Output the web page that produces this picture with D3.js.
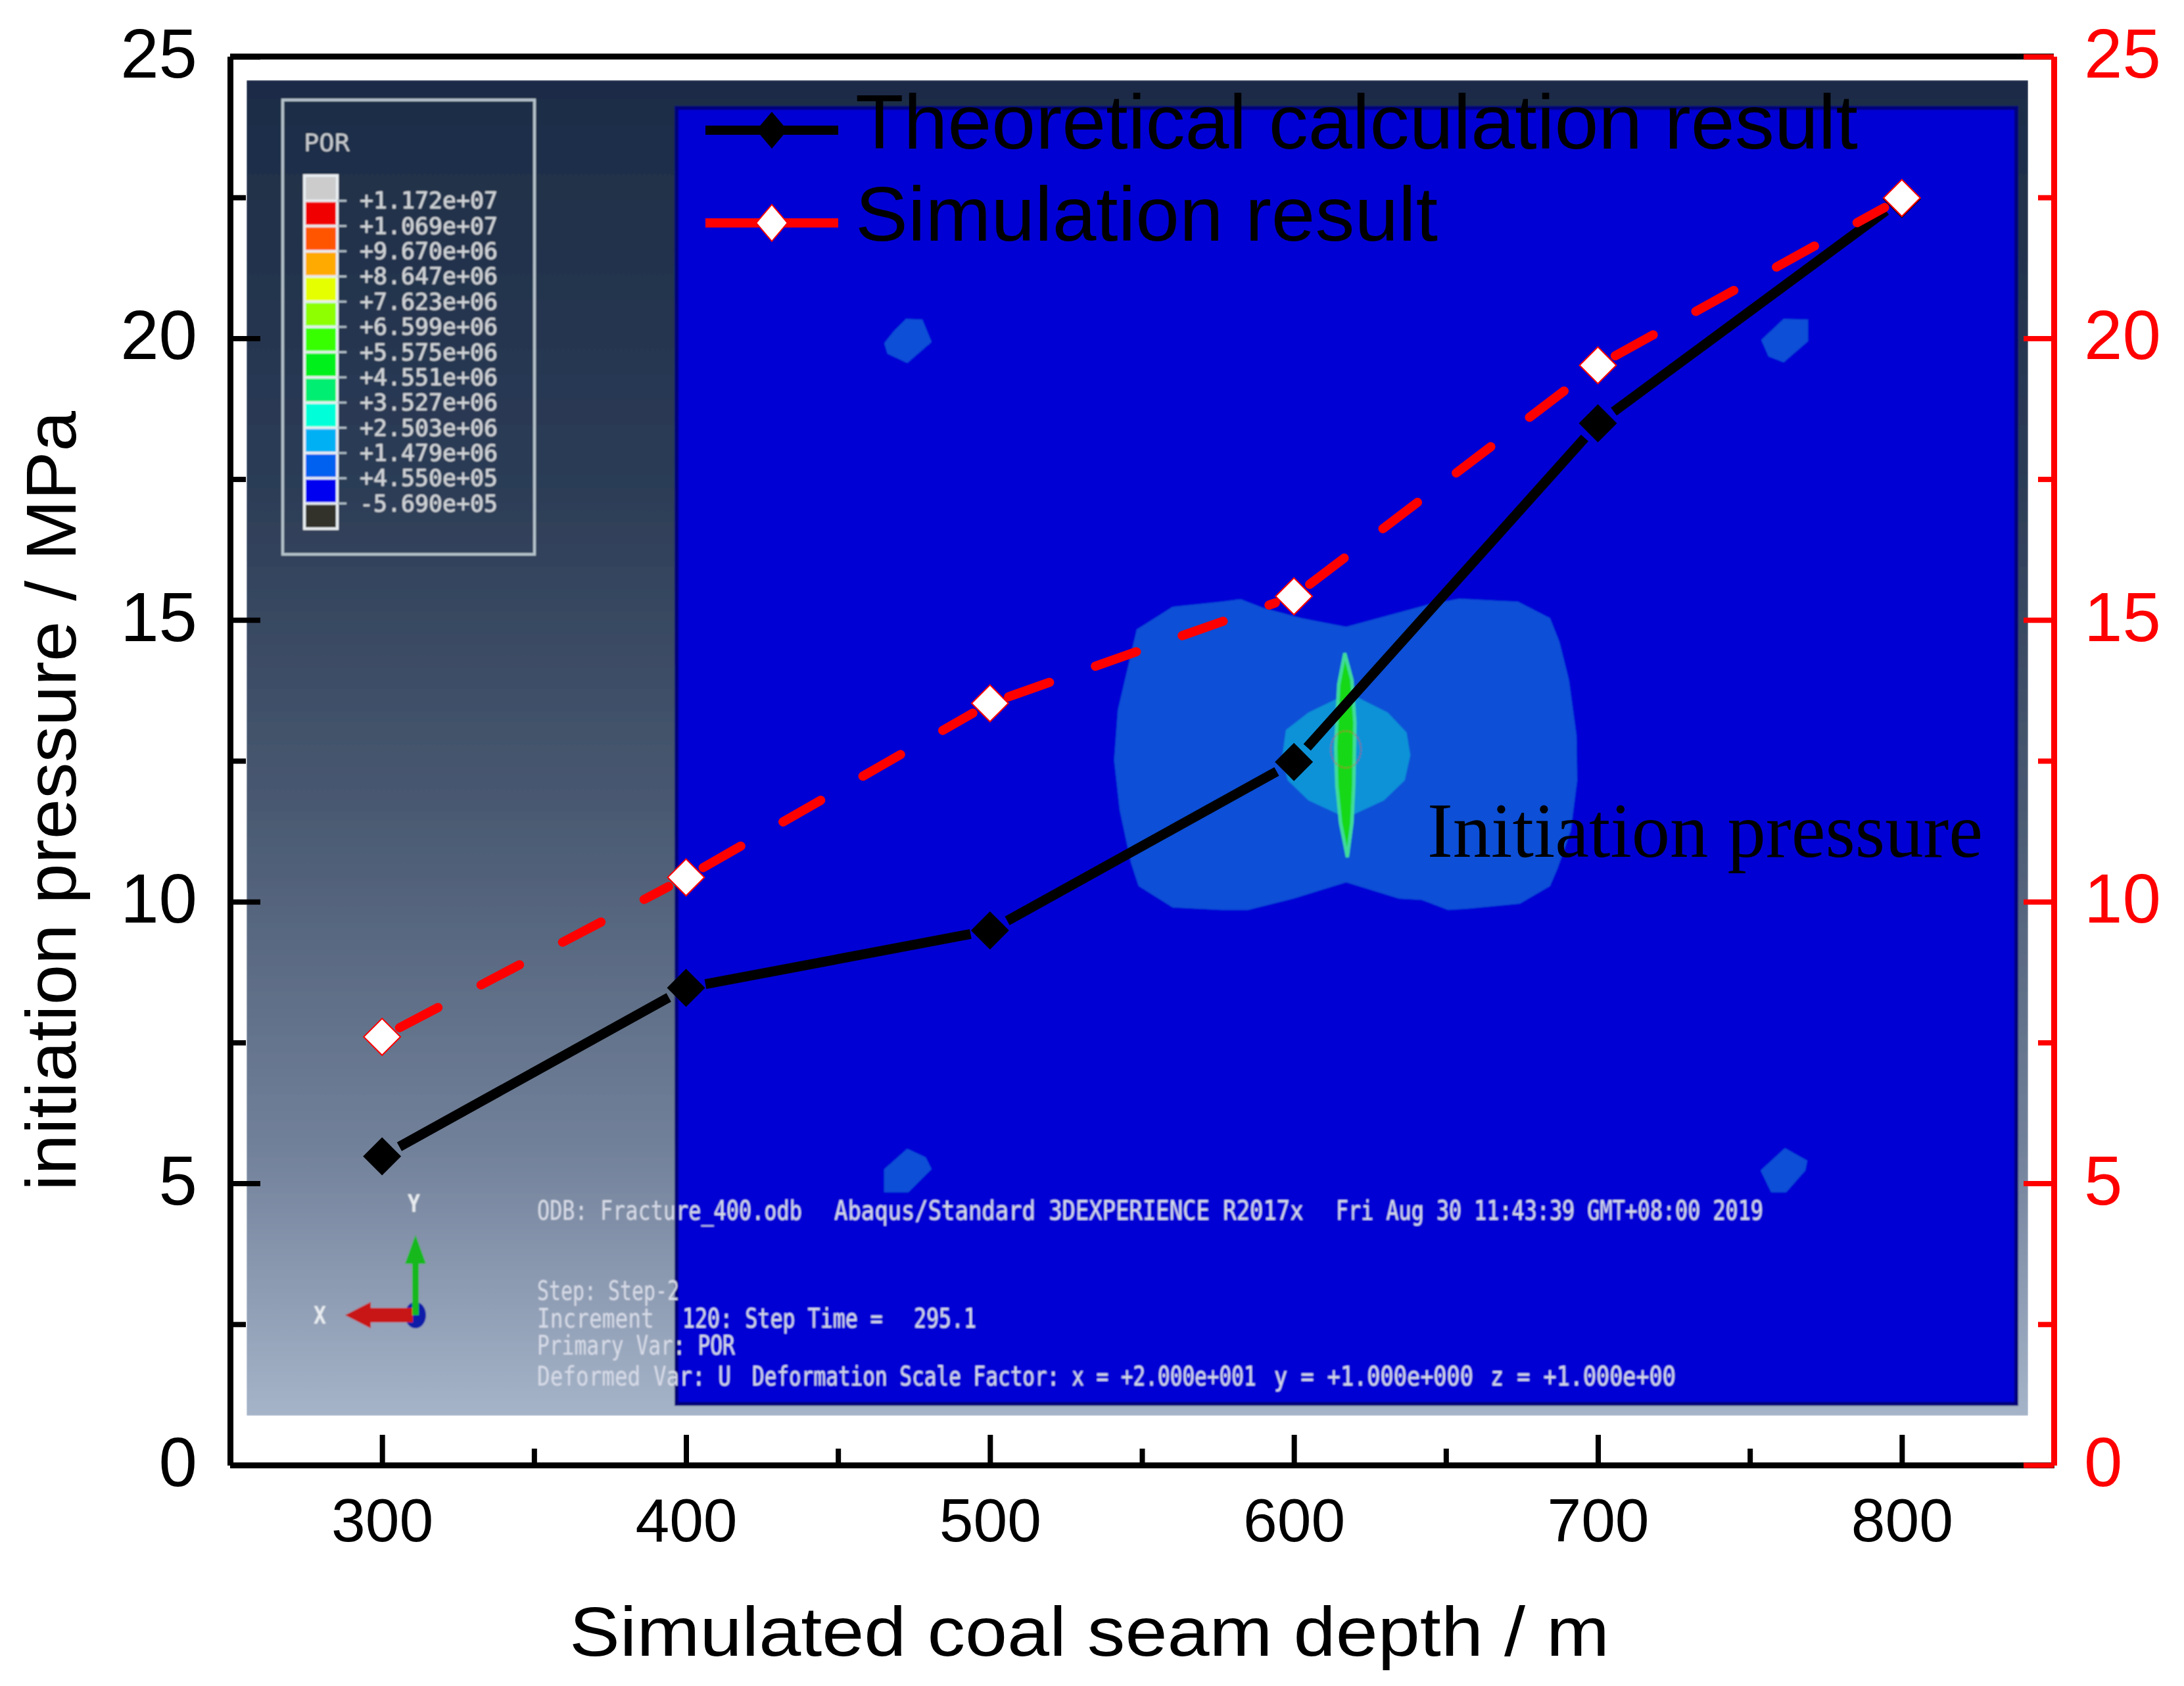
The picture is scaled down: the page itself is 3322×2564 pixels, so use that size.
<!DOCTYPE html>
<html>
<head>
<meta charset="utf-8">
<script src="https://cdn.jsdelivr.net/npm/d3@7"></script>
<style>
  html, body { margin: 0; padding: 0; background: #fff; }
  svg { display: block; }
  text { font-family: "Liberation Sans", Arial, sans-serif; white-space: pre; }
</style>
</head>
<body>
<svg id="chart"></svg>
<script>
// values
const depths = [300, 400, 500, 600, 700, 800];
const theoretical = [5.48, 8.47, 9.49, 12.48, 18.49, 22.47];
const simulation = [7.6, 10.43, 13.52, 15.42, 19.52, 22.49];

const xMajor = [300, 400, 500, 600, 700, 800];
const xMinor = [350, 450, 550, 650, 750];
const yMajor = [0, 5, 10, 15, 20, 25];
const yMinor = [2.5, 7.5, 12.5, 17.5, 22.5];

const porLabels = ['+1.172e+07', '+1.069e+07', '+9.670e+06', '+8.647e+06', '+7.623e+06', '+6.599e+06',
  '+5.575e+06', '+4.551e+06', '+3.527e+06', '+2.503e+06', '+1.479e+06', '+4.550e+05', '-5.690e+05'];
const porColors = ['#cccccc', '#f00000', '#ff5500', '#ffaa00', '#e6ff00', '#8dff00', '#38ff00',
  '#00f01c', '#00ee71', '#00ffd8', '#00b0f4', '#0060f0', '#0000f0', '#33302c'];

const w = 3322;
const h = 2564;
const svg = d3.select('#chart').attr('width', w).attr('height', h);

const xSc = d3.scaleLinear().domain([250, 850]).range([350, 3124]);
const ySc = d3.scaleLinear().domain([0, 25]).range([2228, 86]);

// ---- the Abaqus screenshot behind the plot ----
const defs = svg.append('defs');
const grad = defs.append('linearGradient').attr('id', 'panelGrad')
  .attr('x1', 0).attr('y1', 0).attr('x2', 0).attr('y2', 1);
[[0, '#1c2c46'], [0.3, '#2c3c56'], [0.55, '#4a5a72'], [0.8, '#72819a'], [1, '#a6b4c9']].forEach(s => {
  grad.append('stop').attr('offset', s[0]).attr('stop-color', s[1]);
});
// the screenshot in the reference is a bit soft
defs.append('filter').attr('id', 'soft').attr('x', 0).attr('y', 0).attr('width', 1).attr('height', 1)
  .append('feGaussianBlur').attr('stdDeviation', 0.9);

const shot = svg.append('g').attr('filter', 'url(#soft)');
shot.append('rect').attr('x', 375).attr('y', 122).attr('width', 2710).attr('height', 2031)
  .attr('fill', 'url(#panelGrad)');
shot.append('rect').attr('x', 1029).attr('y', 164).attr('width', 2038).attr('height', 1971)
  .attr('fill', '#0000d4').attr('stroke', '#00007a').attr('stroke-width', 6);

const poly = d3.line().curve(d3.curveLinearClosed);
// zoomed-in contour shapes, scaled from the crop I traced them on
const cx = d3.scaleLinear().domain([0, 1568]).range([1600, 2500]);
const cy = d3.scaleLinear().domain([0, 1568]).range([850, 1450]);
const traced = pts => pts.map(p => [cx(p[0]), cy(p[1])]);

const outer = [[780, 270], [1000, 180], [1080, 158], [1235, 170], [1320, 235], [1345, 330], [1370, 480], [1390, 700],
  [1392, 880], [1375, 1080], [1340, 1230], [1320, 1300], [1240, 1370], [1100, 1390], [1050, 1395], [980, 1355],
  [920, 1350], [780, 1285], [640, 1350], [520, 1395], [450, 1395], [320, 1385], [230, 1300], [210, 1210], [180, 1000],
  [165, 800], [175, 600], [225, 280], [320, 190], [450, 170], [500, 160], [560, 195], [660, 235]];
const inner = [[770, 545], [810, 550], [890, 610], [940, 690], [950, 780], [935, 880], [880, 960], [800, 1015],
  [760, 1015], [680, 960], [625, 880], [610, 790], [620, 680], [680, 610]];
const sliver = [[776, 375], [795, 480], [803, 650], [800, 900], [795, 1050], [783, 1185], [765, 1050], [755, 900],
  [752, 750], [760, 500]];
const blobs = [
  [[1378, 485], [1403, 486], [1417, 520], [1380, 552], [1350, 538], [1345, 522], [1360, 503]],
  [[2713, 485], [2750, 486], [2750, 519], [2713, 551], [2690, 542], [2679, 517]],
  [[1380, 1747], [1408, 1760], [1417, 1778], [1382, 1813], [1345, 1813], [1345, 1778]],
  [[2715, 1746], [2749, 1765], [2746, 1780], [2717, 1813], [2694, 1813], [2678, 1780]]
];

shot.selectAll('path.blob').data(blobs).enter().append('path')
  .attr('class', 'blob').attr('d', poly).attr('fill', '#0a50d6');
shot.append('path').attr('d', poly(traced(outer))).attr('fill', '#0a50d6');
shot.append('path').attr('d', poly(traced(inner))).attr('fill', '#0a92d8');
shot.append('path').attr('d', poly(traced(sliver))).attr('fill', '#12d812')
  .attr('stroke', '#3fdc9a').attr('stroke-width', 5);
shot.append('ellipse').attr('cx', cx(779)).attr('cy', cy(757)).attr('rx', 23).attr('ry', 28)
  .attr('fill', 'none').attr('stroke', '#b04040').attr('stroke-width', 1.5).attr('stroke-dasharray', '3 2');

// POR colour legend
const legendG = shot.append('g');
legendG.append('rect').attr('x', 430).attr('y', 152).attr('width', 383).attr('height', 691)
  .attr('fill', 'none').attr('stroke', '#b4c2cc').attr('stroke-width', 4);
legendG.append('text').attr('x', 462).attr('y', 230).attr('fill', '#c8ccd0')
  .style('font-family', '"DejaVu Sans Mono"').attr('font-size', 38).attr('textLength', 70)
  .attr('lengthAdjust', 'spacingAndGlyphs').text('POR');

const barSc = d3.scaleBand().domain(porColors).range([267, 804]);
legendG.append('rect').attr('x', 461).attr('y', 265).attr('width', 54).attr('height', 541)
  .attr('fill', '#e8eef2');
legendG.selectAll('rect.cell').data(porColors).enter().append('rect')
  .attr('class', 'cell').attr('x', 465).attr('width', 46)
  .attr('y', d => barSc(d) + 2).attr('height', barSc.bandwidth() - 4)
  .attr('fill', d => d);
legendG.selectAll('line.mark').data(porLabels).enter().append('line')
  .attr('class', 'mark').attr('x1', 513).attr('x2', 527)
  .attr('y1', (d, i) => barSc(porColors[i + 1])).attr('y2', (d, i) => barSc(porColors[i + 1]))
  .attr('stroke', '#b4c2cc').attr('stroke-width', 3);
legendG.selectAll('text.val').data(porLabels).enter().append('text')
  .attr('class', 'val').attr('x', 547).attr('y', (d, i) => barSc(porColors[i + 1]) + 12)
  .attr('fill', '#d0d4d8').attr('stroke', '#d0d4d8').attr('stroke-width', 0.6)
  .style('font-family', '"DejaVu Sans Mono"').attr('font-size', 35)
  .attr('textLength', d => d.length * 21).attr('lengthAdjust', 'spacingAndGlyphs').text(d => d);

// status lines of the viewport, squeezed to the narrow look of the screenshot font
const note = (s, x, y, len) => {
  const t = shot.append('text').attr('fill', '#d8dce8')
    .style('font-family', '"DejaVu Sans Mono"').attr('font-size', 40).text(s);
  const sx = len / t.node().getComputedTextLength();
  t.attr('transform', 'translate(' + x + ',' + y + ') scale(' + sx + ',1)');
};
note('ODB: Fracture_400.odb', 817, 1855, 403);
note('Abaqus/Standard 3DEXPERIENCE R2017x', 1269, 1855, 714);
note('Fri Aug 30 11:43:39 GMT+08:00 2019', 2032, 1855, 650);
note('Step: Step-2', 817, 1977, 216);
note('Increment', 817, 2019, 178);
note('120: Step Time =', 1038, 2019, 305);
note('295.1', 1390, 2019, 95);
note('Primary Var: POR', 817, 2060, 301);
note('Deformed Var: U', 817, 2107, 295);
note('Deformation Scale Factor: x = +2.000e+001', 1144, 2107, 767);
note('y = +1.000e+000', 1938, 2107, 303);
note('z = +1.000e+00', 2267, 2107, 282);

// orientation triad
const triad = shot.append('g');
triad.append('ellipse').attr('cx', 632).attr('cy', 2000).attr('rx', 16).attr('ry', 20).attr('fill', '#0a1aa8');
triad.append('path').attr('d', poly([[525, 2000], [564, 1980], [564, 1989], [628, 1989], [628, 2011], [564, 2011], [564, 2020]]))
  .attr('fill', '#c81414');
triad.append('path').attr('d', poly([[632, 1878], [648, 1922], [637, 1922], [637, 2000], [627, 2000], [627, 1922], [616, 1922]]))
  .attr('fill', '#12b81c');
const axisLetter = (s, x, y) => shot.append('text').attr('x', x).attr('y', y).attr('fill', '#e8ecf0')
  .style('font-family', '"DejaVu Sans Mono"').style('font-weight', 'bold').attr('font-size', 38)
  .attr('textLength', 19).attr('lengthAdjust', 'spacingAndGlyphs').text(s);
axisLetter('Y', 620, 1843);
axisLetter('X', 477, 2013);

// ---- axes ----
const styleAxis = (g, color, width) => {
  g.selectAll('path').attr('stroke', color).attr('stroke-width', width);
  g.selectAll('line').attr('stroke', color).attr('stroke-width', 8);
  g.selectAll('text').attr('fill', color).attr('font-family', '"Liberation Sans"');
};

const xAxisMinor = d3.axisBottom(xSc).tickValues(xMinor).tickSize(-25).tickSizeOuter(0).tickFormat('');
const xAxis = d3.axisBottom(xSc).tickValues(xMajor).tickSize(-46).tickSizeOuter(0).tickPadding(50).tickFormat(d3.format('d'));
const yLeftMinor = d3.axisLeft(ySc).tickValues(yMinor).tickSize(-24).tickSizeOuter(0).tickFormat('');
const yLeft = d3.axisLeft(ySc).tickValues(yMajor).tickSize(-46).tickSizeOuter(0).tickPadding(50).tickFormat(d3.format('d'));
const yRightMinor = d3.axisRight(ySc).tickValues(yMinor).tickSize(-24).tickSizeOuter(0).tickFormat('');
const yRight = d3.axisRight(ySc).tickValues(yMajor).tickSize(-46).tickSizeOuter(0).tickPadding(46).tickFormat(d3.format('d'));

// top border
svg.append('line').attr('x1', xSc(250)).attr('x2', xSc(850)).attr('y1', ySc(25)).attr('y2', ySc(25))
  .attr('stroke', '#000').attr('stroke-width', 9);

const gx = svg.append('g').attr('transform', 'translate(0,' + ySc(0) + ')');
gx.append('g').call(xAxisMinor).call(g => styleAxis(g, '#000', 9));
gx.append('g').call(xAxis).attr('font-size', 93).call(g => styleAxis(g, '#000', 9));

const gl = svg.append('g').attr('transform', 'translate(' + xSc(250) + ',0)');
gl.append('g').call(yLeftMinor).call(g => styleAxis(g, '#000', 9));
gl.append('g').call(yLeft).attr('font-size', 105).call(g => styleAxis(g, '#000', 9));
gl.selectAll('text').attr('dy', '0.3em');

const gr = svg.append('g').attr('transform', 'translate(' + xSc(850) + ',0)');
gr.append('g').call(yRightMinor).call(g => styleAxis(g, '#ff0000', 9));
gr.append('g').call(yRight).attr('font-size', 105).call(g => styleAxis(g, '#ff0000', 9));
gr.selectAll('text').attr('dy', '0.3em');

// axis titles
svg.append('text').attr('x', 866).attr('y', 2518).attr('font-size', 106).attr('fill', '#000')
  .attr('textLength', 1582).attr('lengthAdjust', 'spacingAndGlyphs').text('Simulated coal seam depth / m');
svg.append('text').attr('transform', 'translate(115,1811) rotate(-90)').attr('font-size', 108).attr('fill', '#000')
  .attr('textLength', 1186).attr('lengthAdjust', 'spacingAndGlyphs').text('initiation pressure / MPa');

// ---- series ----
const lineGen = d3.line();
const gap = 30;
// segment between two points, shortened so it stops before the markers
const segment = (a, b) => {
  const x0 = xSc(a[0]), y0 = ySc(a[1]), x1 = xSc(b[0]), y1 = ySc(b[1]);
  const len = Math.hypot(x1 - x0, y1 - y0);
  const ux = (x1 - x0) / len, uy = (y1 - y0) / len;
  return lineGen([[x0 + ux * gap, y0 + uy * gap], [x1 - ux * gap, y1 - uy * gap]]);
};

const drawSeries = (values, opts) => {
  const pts = depths.map((d, i) => [d, values[i]]);
  const g = svg.append('g');
  g.selectAll('path.seg').data(d3.pairs(pts)).enter().append('path')
    .attr('class', 'seg').attr('d', d => segment(d[0], d[1]))
    .attr('fill', 'none').attr('stroke', opts.color).attr('stroke-width', opts.width)
    .attr('stroke-linecap', opts.cap).attr('stroke-dasharray', opts.dash);
  g.selectAll('path.pt').data(pts).enter().append('path')
    .attr('class', 'pt').attr('d', d3.symbol(d3.symbolSquare, opts.size))
    .attr('transform', d => 'translate(' + xSc(d[0]) + ',' + ySc(d[1]) + ') rotate(45)')
    .attr('fill', opts.fill).attr('stroke', opts.color).attr('stroke-width', opts.fill === '#fff' ? 2 : 0);
};

drawSeries(theoretical, { color: '#000', fill: '#000', cap: 'butt', dash: null, width: 15, size: 1680 });
drawSeries(simulation, { color: '#ff0000', fill: '#fff', cap: 'round', dash: '66 74', width: 14, size: 1560 });

// ---- legend ----
const keyG = svg.append('g');
const addKey = (label, y, base, len, color, fill) => {
  keyG.append('path').attr('d', lineGen([[1073, y], [1275, y]])).attr('stroke', color).attr('stroke-width', 14);
  keyG.append('path').attr('d', d3.symbol(d3.symbolSquare, 1560))
    .attr('transform', 'translate(1174,' + y + ') scale(.85,1) rotate(45)')
    .attr('fill', fill).attr('stroke', color).attr('stroke-width', fill === '#fff' ? 2 : 0);
  keyG.append('text').attr('x', 1301).attr('y', base).attr('font-size', 116).attr('fill', '#000')
    .attr('textLength', len).attr('lengthAdjust', 'spacingAndGlyphs').text(label);
};
addKey('Theoretical calculation result', 198, 226, 1525, '#000', '#000');
addKey('Simulation result', 339, 366, 886, '#ff0000', '#fff');

svg.append('text').attr('x', 2171).attr('y', 1303).attr('font-size', 118).attr('fill', '#000')
  .style('font-family', '"Liberation Serif"')
  .attr('textLength', 845).attr('lengthAdjust', 'spacingAndGlyphs').text('Initiation pressure');
</script>
</body>
</html>
